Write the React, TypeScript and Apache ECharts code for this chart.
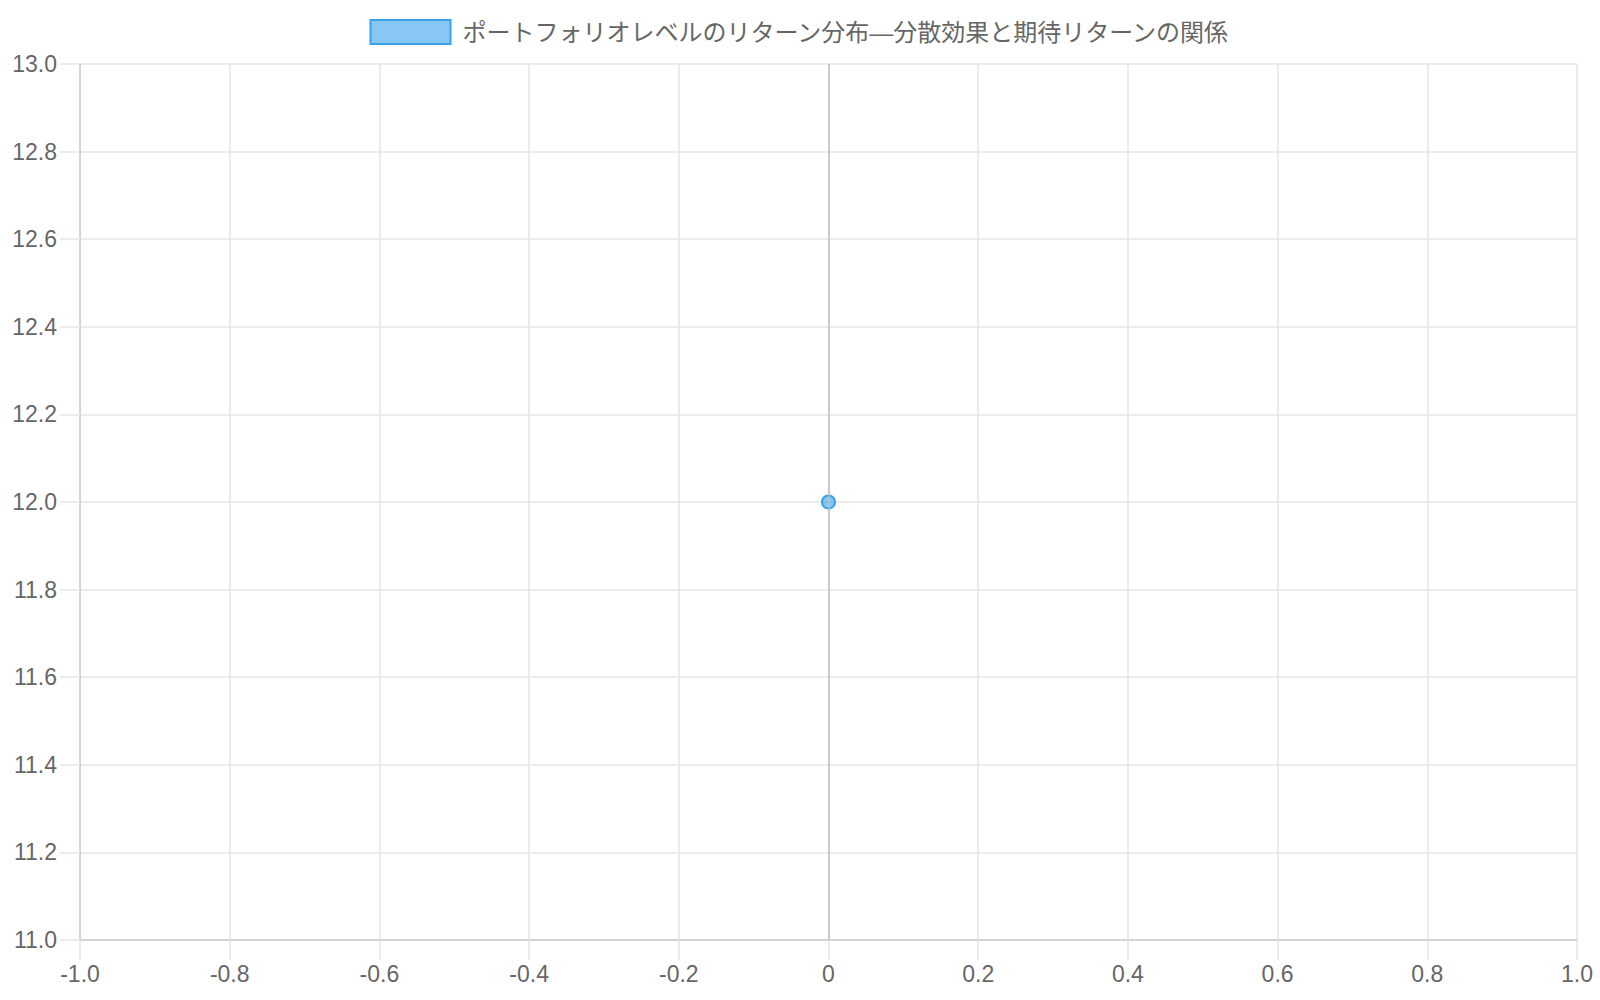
import * as echarts from "echarts"
import { useEffect, useRef } from "react"

const seriesName = "ポートフォリオレベルのリターン分布—分散効果と期待リターンの関係"
// [correlation, expected return]
const points: [number, number][] = [[0, 12]]
const xRange = [-1, 1]
const yRange = [11, 13]
const step = 0.2

const FONT = '"Liberation Sans", "Noto Sans CJK JP", sans-serif'
const gridColor = "#e5e5e5"

const App: React.FC = () => {
    const ref = useRef<HTMLDivElement | null>(null)

    useEffect(() => {
        if (!ref.current) return
        const chart = echarts.init(ref.current, null, { renderer: "svg" })

        const fmt = (v: number) => (Math.abs(v) < 1e-9 ? "0" : v.toFixed(1))

        chart.setOption({
            animation: false,
            textStyle: { fontFamily: FONT },
            legend: {
                top: 14,
                left: "center",
                icon: "rect",
                itemWidth: 80,
                itemHeight: 24,
                itemStyle: { color: "#88c7f4", borderColor: "#36a2eb", borderWidth: 2 },
                textStyle: { fontSize: 24, color: "#666", fontFamily: FONT, padding: [0, 0, 0, 7] },
                data: [seriesName]
            },
            grid: { left: 80, right: 23, top: 64, bottom: 60 },
            xAxis: {
                type: "value",
                min: xRange[0],
                max: xRange[1],
                interval: step,
                axisLine: { show: true, onZero: false, lineStyle: { color: "#cccccc", width: 1.5 } },
                axisTick: { show: true, length: 20, lineStyle: { color: gridColor, width: 1.5 } },
                axisLabel: { formatter: fmt, fontSize: 23, color: "#666", margin: 22, fontFamily: FONT },
                splitLine: { show: true, lineStyle: { color: gridColor, width: 1.5 } }
            },
            yAxis: {
                type: "value",
                min: yRange[0],
                max: yRange[1],
                interval: step,
                axisLine: { show: true, onZero: false, lineStyle: { color: "#cccccc", width: 1.5 } },
                axisTick: { show: true, length: 20, lineStyle: { color: gridColor, width: 1.5 } },
                axisLabel: { formatter: (v: number) => v.toFixed(1), fontSize: 23, color: "#666", margin: 23, fontFamily: FONT },
                splitLine: { show: true, lineStyle: { color: gridColor, width: 1.5 } }
            },
            series: [
                {
                    name: seriesName,
                    type: "scatter",
                    symbol: "circle",
                    symbolSize: 13,
                    itemStyle: {
                        color: "rgba(54,162,235,0.6)",
                        borderColor: "#36a2eb",
                        borderWidth: 2,
                        opacity: 1
                    },
                    data: points,
                    markLine: {
                        silent: true,
                        symbol: ["none", "none"],
                        label: { show: false },
                        lineStyle: { color: "#bfbfbf", width: 1.5, type: "solid" },
                        data: [{ xAxis: 0 }]
                    },
                    z: 3
                }
            ]
        })

        return () => {
            chart.dispose()
        }
    }, [])

    return <div ref={ref} style={{ position: "fixed", left: 0, top: 0, width: 1600, height: 1000, background: "#fff" }}></div>
}

export default App
